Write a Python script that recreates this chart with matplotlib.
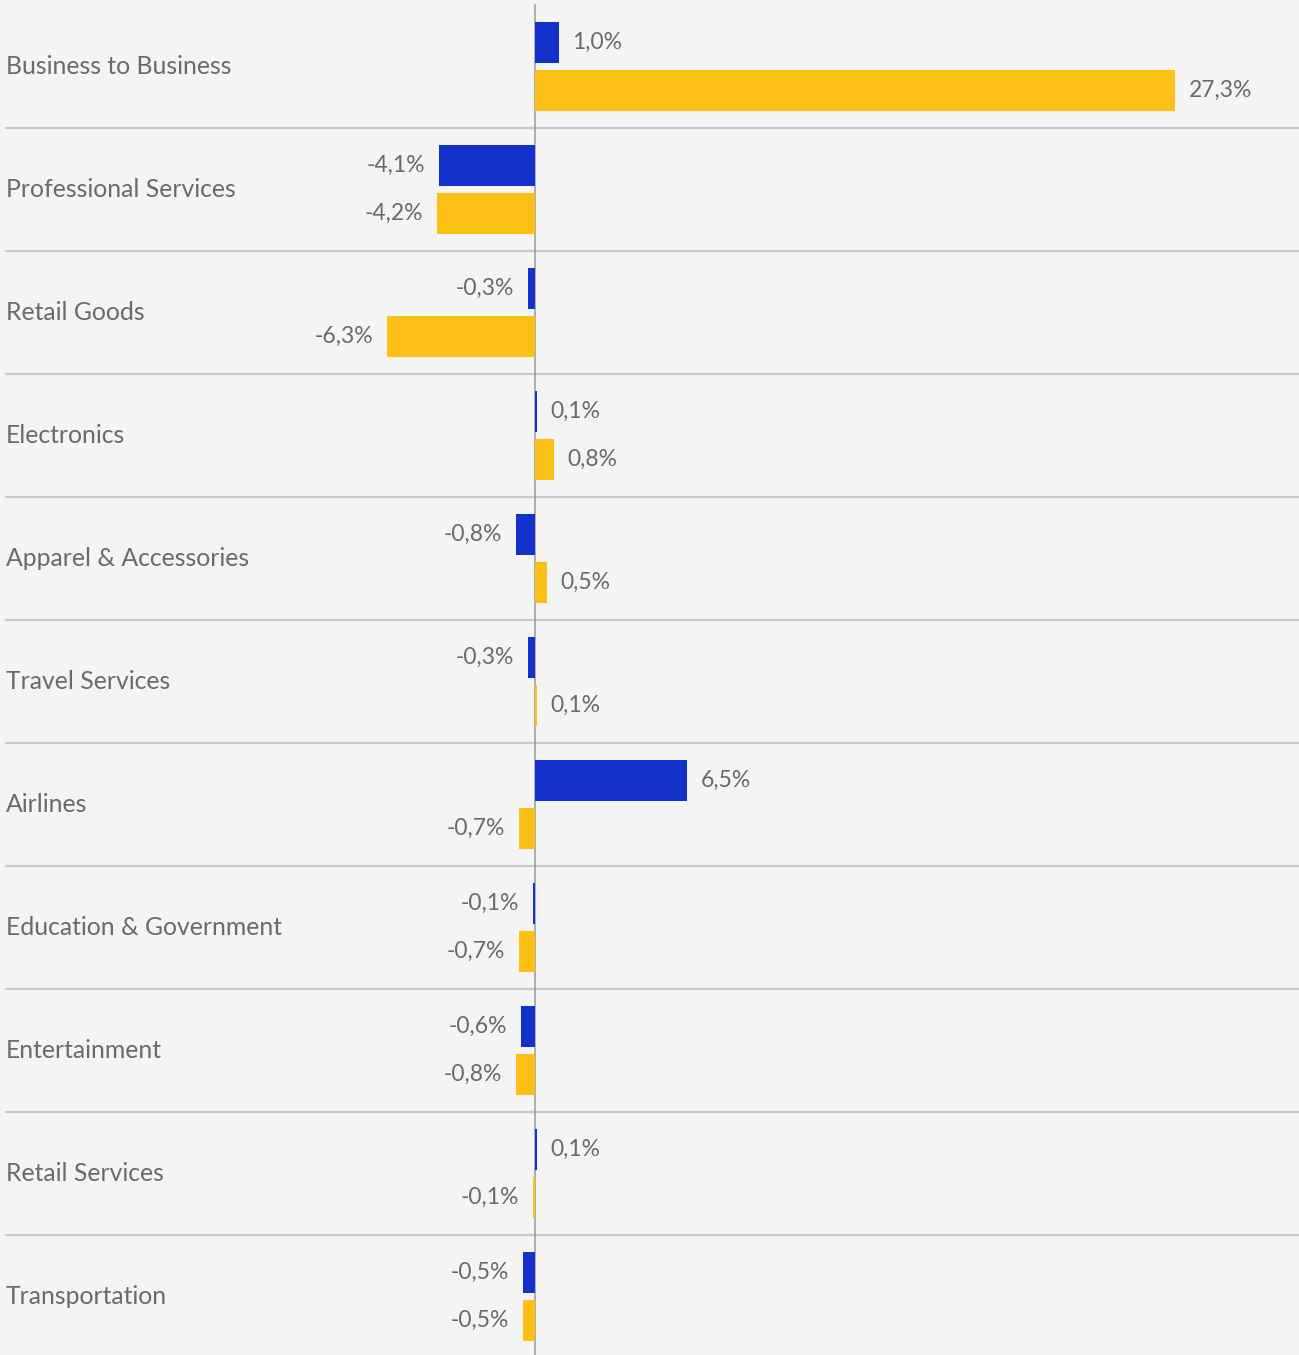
import matplotlib.pyplot as plt
import numpy as np

# Category change per segment, two series per row (blue on top, yellow below)
categories = ['Business to Business', 'Professional Services', 'Retail Goods',
              'Electronics', 'Apparel & Accessories', 'Travel Services',
              'Airlines', 'Education & Government', 'Entertainment',
              'Retail Services', 'Transportation']
blue_vals = [1.0, -4.1, -0.3, 0.1, -0.8, -0.3, 6.5, -0.1, -0.6, 0.1, -0.5]
yellow_vals = [27.3, -4.2, -6.3, 0.8, 0.5, 0.1, -0.7, -0.7, -0.8, -0.1, -0.5]

BG = '#f4f4f4'
BLUE = '#1431cb'
YELLOW = '#fbbf15'
TEXT = '#6a6a6a'

plt.rcParams['font.family'] = ['Lato', 'DejaVu Sans']

fig = plt.figure(figsize=(12.99, 13.55), dpi=100, facecolor=BG)
ax = fig.add_axes([0, 0, 1, 1], facecolor=BG)

y = np.arange(len(categories))
bar_h = 0.333
off = 0.195

ax.barh(y - off, blue_vals, height=bar_h, color=BLUE, zorder=3)
ax.barh(y + off, yellow_vals, height=bar_h, color=YELLOW, zorder=3)

ax.set_xlim(-22.82, 32.58)
ax.set_ylim(10.476, -0.541)

def fmt(v):
    return f'{v:.1f}'.replace('.', ',') + '%'

# value labels next to bar ends
for vals, dy in ((blue_vals, -off), (yellow_vals, off)):
    for i, v in enumerate(vals):
        ha = 'left' if v >= 0 else 'right'
        dx = 9.5 if v >= 0 else -10
        ax.annotate(fmt(v), (v, i + dy), xytext=(dx, 0), textcoords='offset points',
                    ha=ha, va='center', fontsize=16.5, color=TEXT)

# category names on the left
for i, name in enumerate(categories):
    ax.text(6 / 1299, i, name, transform=ax.get_yaxis_transform(),
            ha='left', va='center', fontsize=17.8, color=TEXT)

# row separators
for i in range(len(categories) - 1):
    ax.axhline(i + 0.5, xmin=6 / 1299, xmax=1, color='#c9c9c9', lw=1.6, zorder=1)

# zero line
ax.axvline(0, ymin=0, ymax=1 - 5 / 1355, color='#9a9a9a', lw=1.1, zorder=2)

ax.axis('off')
fig.savefig('out.png', dpi=100, facecolor=BG)
